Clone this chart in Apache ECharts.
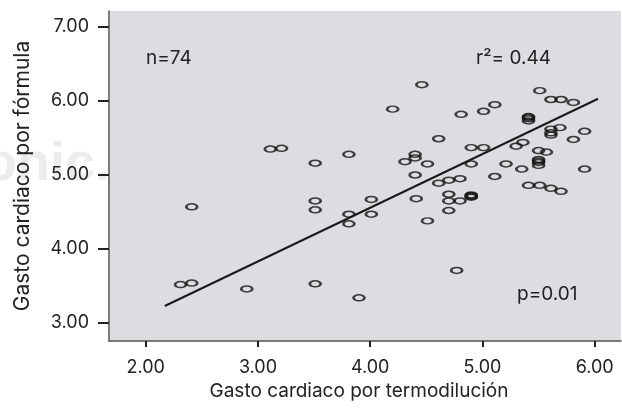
<!DOCTYPE html>
<html>
<head>
<meta charset="utf-8">
<script src="https://cdn.jsdelivr.net/npm/echarts@6/dist/echarts.min.js"></script>
<style>
  html, body { margin: 0; padding: 0; background: #fff; }
  #chart { width: 622px; height: 410px; }
</style>
</head>
<body>
<div id="chart"></div>
<script>
// values (74 patients)
var termodilucion = [
    2.31, 2.41, 2.41, 2.90, 3.11, 3.21, 3.51, 3.51, 3.51, 3.51,
    3.81, 3.81, 3.81, 3.90, 4.01, 4.01, 4.20, 4.31, 4.40, 4.40,
    4.40, 4.41, 4.46, 4.51, 4.51, 4.61, 4.61, 4.70, 4.70, 4.70,
    4.70, 4.77, 4.80, 4.80, 4.81, 4.90, 4.90, 4.90, 4.90, 4.90,
    4.90, 5.01, 5.01, 5.11, 5.11, 5.21, 5.30, 5.35, 5.36, 5.41,
    5.41, 5.41, 5.41, 5.41, 5.50, 5.50, 5.50, 5.50, 5.50, 5.51,
    5.51, 5.57, 5.61, 5.61, 5.61, 5.61, 5.61, 5.69, 5.70, 5.70,
    5.81, 5.81, 5.91, 5.91
];
var formula = [
    3.52, 3.54, 4.57, 3.46, 5.35, 5.36, 5.16, 4.65, 4.53, 3.53,
    5.28, 4.47, 4.34, 3.34, 4.67, 4.47, 5.89, 5.18, 5.28, 5.23,
    5.00, 4.68, 6.22, 5.15, 4.38, 5.49, 4.89, 4.93, 4.74, 4.65,
    4.52, 3.71, 4.95, 4.65, 5.82, 5.37, 5.15, 4.73, 4.72, 4.71,
    4.70, 5.86, 5.37, 5.95, 4.98, 5.15, 5.39, 5.08, 5.44, 5.79,
    5.78, 5.76, 5.73, 4.86, 5.33, 5.21, 5.19, 5.17, 5.13, 6.14,
    4.86, 5.31, 6.02, 5.62, 5.57, 5.54, 4.82, 5.64, 6.02, 4.78,
    5.98, 5.48, 5.59, 5.08
];
// fitted line end points
var regLineX = [2.17, 6.03];
var regLineY = [3.23, 6.03];
var xTicks = [2, 3, 4, 5, 6];
var yTicks = [3, 4, 5, 6, 7];

var points = termodilucion.map(function (x, i) { return [x, formula[i]]; });
var linePts = regLineX.map(function (x, i) { return [x, regLineY[i]]; });

var myChart = echarts.init(document.getElementById("chart"), null, { renderer: "canvas" });

var txt = "#222";
var font = "Inter, Liberation Sans, Arial, sans-serif";

var option = {
    animation: false,
    textStyle: { fontFamily: font },
    graphic: [
        {
            type: "text", z: -10, left: -16, top: 138,
            style: { text: "onic.", font: "bold 54px Liberation Sans, Arial, sans-serif", fill: "#ececec" }
        },
        {
            type: "text", left: 146, top: 49,
            style: { text: "n=74", font: "19px " + font, fill: txt }
        },
        {
            type: "text", left: 476, top: 49,
            style: { text: "r\u00b2= 0.44", font: "19px " + font, fill: txt }
        },
        {
            type: "text", left: 517, top: 285,
            style: { text: "p=0.01", font: "19px " + font, fill: txt }
        }
    ],
    grid: {
        left: 109, top: 11, width: 512, height: 330,
        show: true, backgroundColor: "#dcdde0", borderWidth: 0
    },
    xAxis: {
        type: "value", min: 1.673, max: 6.234,
        name: "Gasto cardiaco por termodilución",
        nameLocation: "middle", nameGap: 40,
        nameTextStyle: { fontSize: 19, color: txt, padding: [0, 12, 0, 0] },
        splitLine: { show: false },
        axisLine: { show: true, lineStyle: { color: "#555", width: 1.5 } },
        axisTick: { show: true, customValues: xTicks, length: 6, lineStyle: { color: "#222", width: 2 } },
        axisLabel: {
            customValues: xTicks, fontSize: 18, color: txt, margin: 18,
            formatter: function (v) { return v.toFixed(2); }
        }
    },
    yAxis: {
        type: "value", min: 2.757, max: 7.216,
        name: "Gasto cardiaco por fórmula",
        nameLocation: "middle", nameGap: 76, nameRotate: 90,
        nameTextStyle: { fontSize: 21, color: txt },
        splitLine: { show: false },
        axisLine: { show: true, lineStyle: { color: "#555", width: 1.5 } },
        axisTick: { show: true, customValues: yTicks, length: 11, lineStyle: { color: "#222", width: 2 } },
        axisLabel: {
            customValues: yTicks, fontSize: 18, color: txt, margin: 20,
            formatter: function (v) { return v.toFixed(2); }
        }
    },
    series: [
        {
            type: "scatter",
            data: points,
            symbol: "path://M0,1 A1,1 0 1,1 2,1 A1,1 0 1,1 0,1 Z",
            symbolSize: [11, 6],
            itemStyle: { color: "rgba(0,0,0,0)", borderColor: "#141414", borderWidth: 2 }
        },
        {
            type: "line",
            data: linePts,
            symbol: "none",
            lineStyle: { color: "#1a1a1a", width: 2 },
            z: 3
        }
    ]
};
myChart.setOption(option);
</script>
</body>
</html>
